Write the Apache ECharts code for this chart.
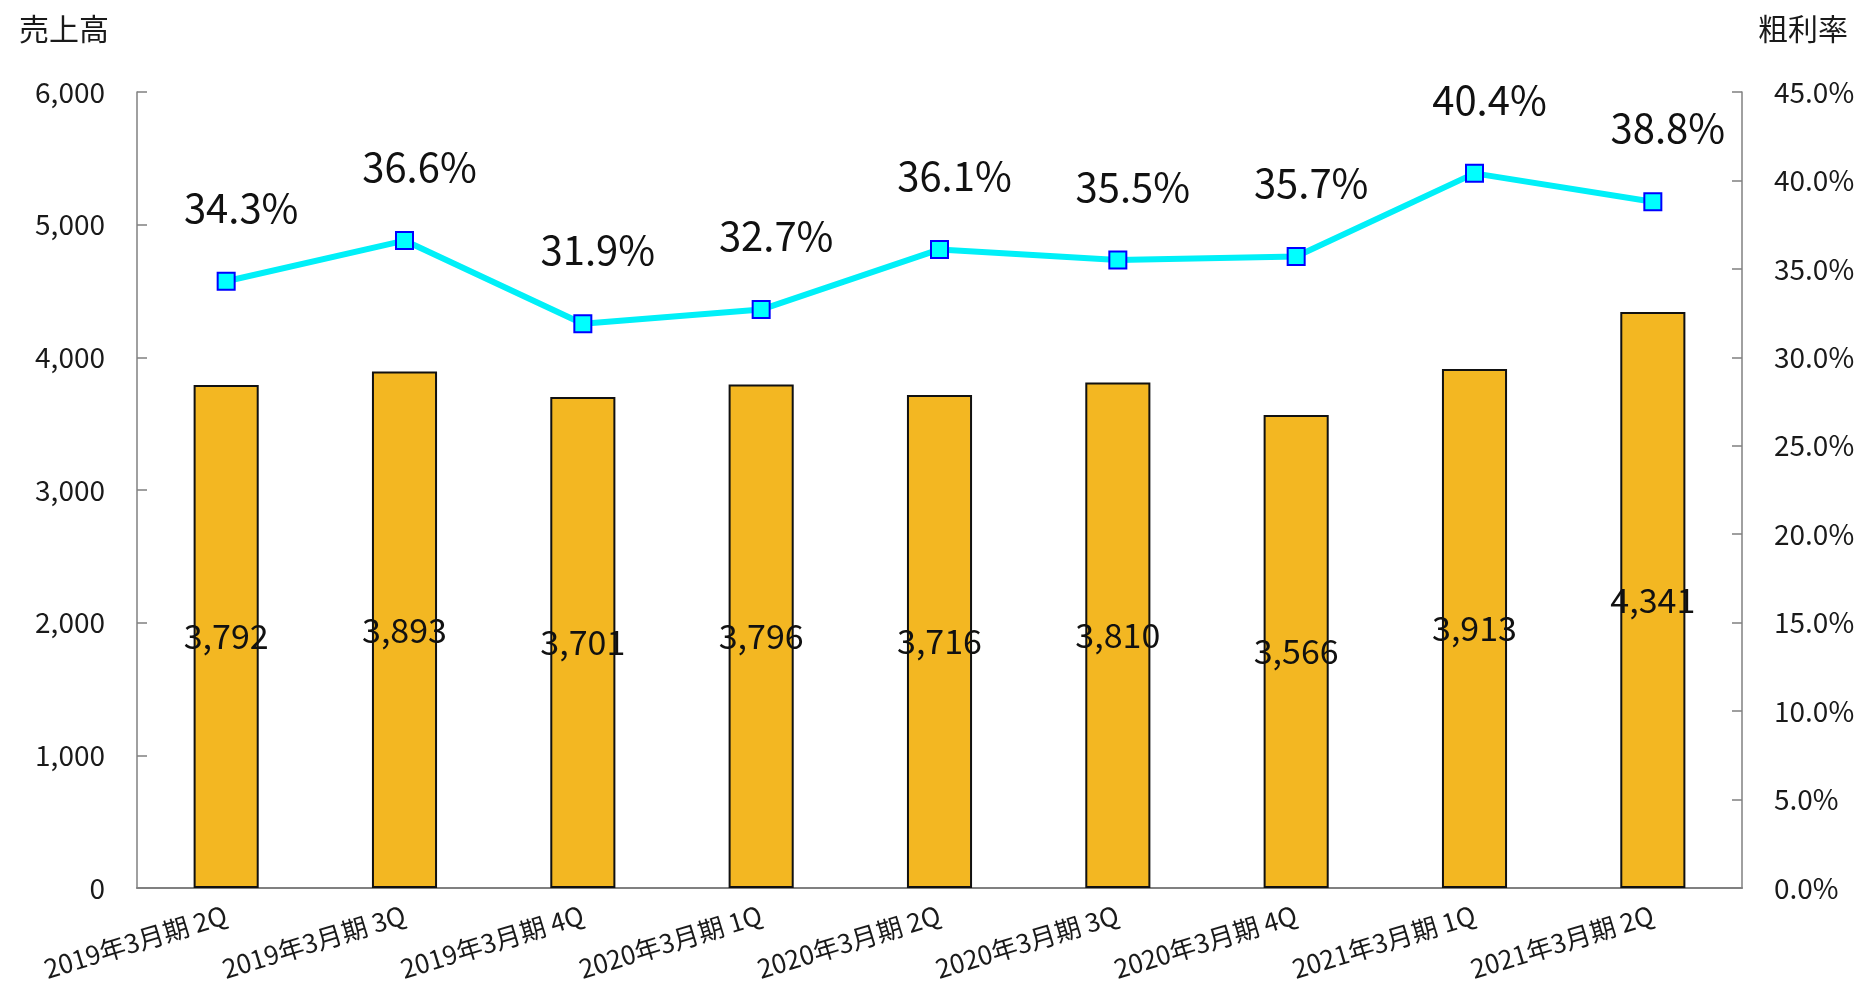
<!DOCTYPE html>
<html>
<head>
<meta charset="utf-8">
<script src="https://cdn.jsdelivr.net/npm/echarts@6/dist/echarts.min.js"></script>
<style>
html,body{margin:0;padding:0;background:#fff;}
#chart{width:1869px;height:985px;}
</style>
</head>
<body>
<div id="chart"></div>
<script>
const categories = ['2019年3月期 2Q','2019年3月期 3Q','2019年3月期 4Q','2020年3月期 1Q','2020年3月期 2Q','2020年3月期 3Q','2020年3月期 4Q','2021年3月期 1Q','2021年3月期 2Q'];
const sales = [3792, 3893, 3701, 3796, 3716, 3810, 3566, 3913, 4341];
const grossMargin = [34.3, 36.6, 31.9, 32.7, 36.1, 35.5, 35.7, 40.4, 38.8];
const leftAxisName = '売上高';
const rightAxisName = '粗利率';

const FONT = '"Noto Sans CJK JP", "Noto Sans", sans-serif';
const TXT = '#1a1a1a';
const chart = echarts.init(document.getElementById('chart'));
const fmt = v => v.toLocaleString('en-US');

chart.setOption({
  backgroundColor: '#fff',
  animation: false,
  textStyle: { fontFamily: FONT },
  title: [
    { text: leftAxisName, left: 14, top: 9, textStyle: { fontSize: 30, fontWeight: 'normal', color: TXT, fontFamily: FONT } },
    { text: rightAxisName, right: 16, top: 9, textStyle: { fontSize: 30, fontWeight: 'normal', color: TXT, fontFamily: FONT } }
  ],
  grid: { left: 137, right: 127, top: 92, bottom: 97 },
  xAxis: {
    type: 'category',
    data: categories,
    axisLine: { lineStyle: { color: '#808080', width: 2 } },
    axisTick: { show: false },
    axisLabel: { interval: 0, rotate: 17, fontSize: 26, color: TXT, margin: 26, fontFamily: FONT }
  },
  yAxis: [
    {
      type: 'value', min: 0, max: 6000, interval: 1000,
      splitLine: { show: false },
      axisLine: { show: true, lineStyle: { color: '#808080', width: 1.5 } },
      axisTick: { show: true, inside: true, length: 10, lineStyle: { color: '#808080', width: 1.5 } },
      axisLabel: { fontSize: 28, color: TXT, margin: 32, formatter: fmt, fontFamily: FONT }
    },
    {
      type: 'value', min: 0, max: 45, interval: 5,
      splitLine: { show: false },
      axisLine: { show: true, lineStyle: { color: '#808080', width: 1.5 } },
      axisTick: { show: true, inside: true, length: 10, lineStyle: { color: '#808080', width: 1.5 } },
      axisLabel: { fontSize: 28, color: TXT, margin: 32, formatter: v => v.toFixed(1) + '%', fontFamily: FONT }
    }
  ],
  series: [
    {
      type: 'bar',
      data: sales,
      yAxisIndex: 0,
      barWidth: '36.5%',
      itemStyle: { color: '#F3B722', borderColor: '#111', borderWidth: 2 },
      label: { show: true, position: 'inside', fontSize: 34, color: '#111', formatter: p => fmt(p.value), fontFamily: FONT },
      z: 2
    },
    {
      type: 'line',
      data: grossMargin,
      yAxisIndex: 1,
      symbol: 'rect',
      symbolSize: 17,
      lineStyle: { color: '#00F0F8', width: 6 },
      itemStyle: { color: '#00FFFF', borderColor: '#0000FF', borderWidth: 2 },
      label: { show: true, position: 'top', distance: 44, offset: [15, 0], fontSize: 40, color: '#111', formatter: p => p.value.toFixed(1) + '%', fontFamily: FONT },
      z: 5
    }
  ]
});
</script>
</body>
</html>
